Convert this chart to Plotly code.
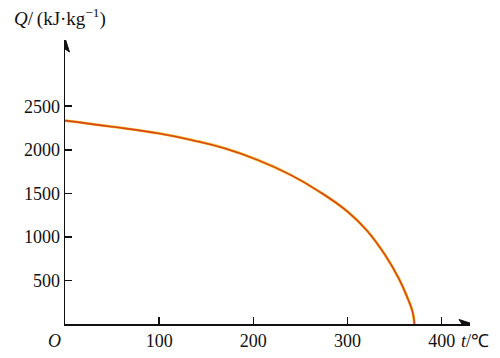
import plotly.graph_objects as go

# data
temps = [0, 50, 100, 135, 170, 205, 240, 270, 300, 320, 340, 355, 364, 369, 371]
heat = [2335, 2265, 2187, 2110, 2015, 1881, 1709, 1520, 1290, 1080, 790, 510, 290, 140, 0]
x_ticks = [100, 200, 300, 400]
y_ticks = [500, 1000, 1500, 2000, 2500]

FONT = "Liberation Serif, Times New Roman, serif"
INK = "#111"

fig = go.Figure()
fig.add_trace(go.Scatter(
    x=temps, y=heat, mode="lines",
    line=dict(color="#F5C024", width=2.8, shape="spline", smoothing=1.3),
    hoverinfo="skip", showlegend=False))
fig.add_trace(go.Scatter(
    x=temps, y=heat, mode="lines",
    line=dict(color="#D8451F", width=1.6, shape="spline", smoothing=1.3),
    showlegend=False))

axis_common = dict(ticks="inside", ticklen=7, tickwidth=1.5, tickcolor=INK,
                   showline=True, linecolor=INK, linewidth=1.5, showgrid=False,
                   zeroline=False, fixedrange=True, automargin=False)

fig.update_layout(
    width=500, height=358,
    margin=dict(l=65, r=30, t=40, b=34),
    paper_bgcolor="white", plot_bgcolor="white",
    font=dict(family=FONT, size=18, color=INK),
    xaxis=dict(range=[0, 430], tickvals=x_ticks, **axis_common),
    yaxis=dict(range=[0, 3260], tickvals=y_ticks, **axis_common),
    shapes=[
        dict(type="path", xref="x", yref="y", xsizemode="pixel", ysizemode="pixel",
             xanchor=430, yanchor=0, path="M 3,0 L -11,4.5 L -8,0 L -11,-4.5 Z",
             fillcolor=INK, line=dict(color=INK, width=1)),
        dict(type="path", xref="x", yref="y", xsizemode="pixel", ysizemode="pixel",
             xanchor=0, yanchor=3260, path="M 0,2 L 4.5,-12 L 0,-9 L -4.5,-12 Z",
             fillcolor=INK, line=dict(color=INK, width=1)),
    ],
    annotations=[
        dict(x=-0.13, y=1.078, xref="paper", yref="paper", xanchor="left", yanchor="middle",
             text="<i>Q</i>/\u2009(kJ·kg<sup>−1</sup>)", showarrow=False, font=dict(size=19)),
        dict(x=0.972, y=-0.06, xref="paper", yref="paper", xanchor="left", yanchor="middle",
             text="<i>t</i>/℃", showarrow=False, font=dict(size=18)),
        dict(x=-0.025, y=-0.06, xref="paper", yref="paper", xanchor="center", yanchor="middle",
             text="<i>O</i>", showarrow=False, font=dict(size=18)),
    ],
)

fig.write_html("out.html", config={"displayModeBar": False, "staticPlot": True})

# remove the browser's default page margin so the figure sits at the top-left corner
with open("out.html", encoding="utf-8") as f:
    html = f.read()
html = html.replace("<body>", '<body style="margin:0;padding:0;">', 1)
with open("out.html", "w", encoding="utf-8") as f:
    f.write(html)
